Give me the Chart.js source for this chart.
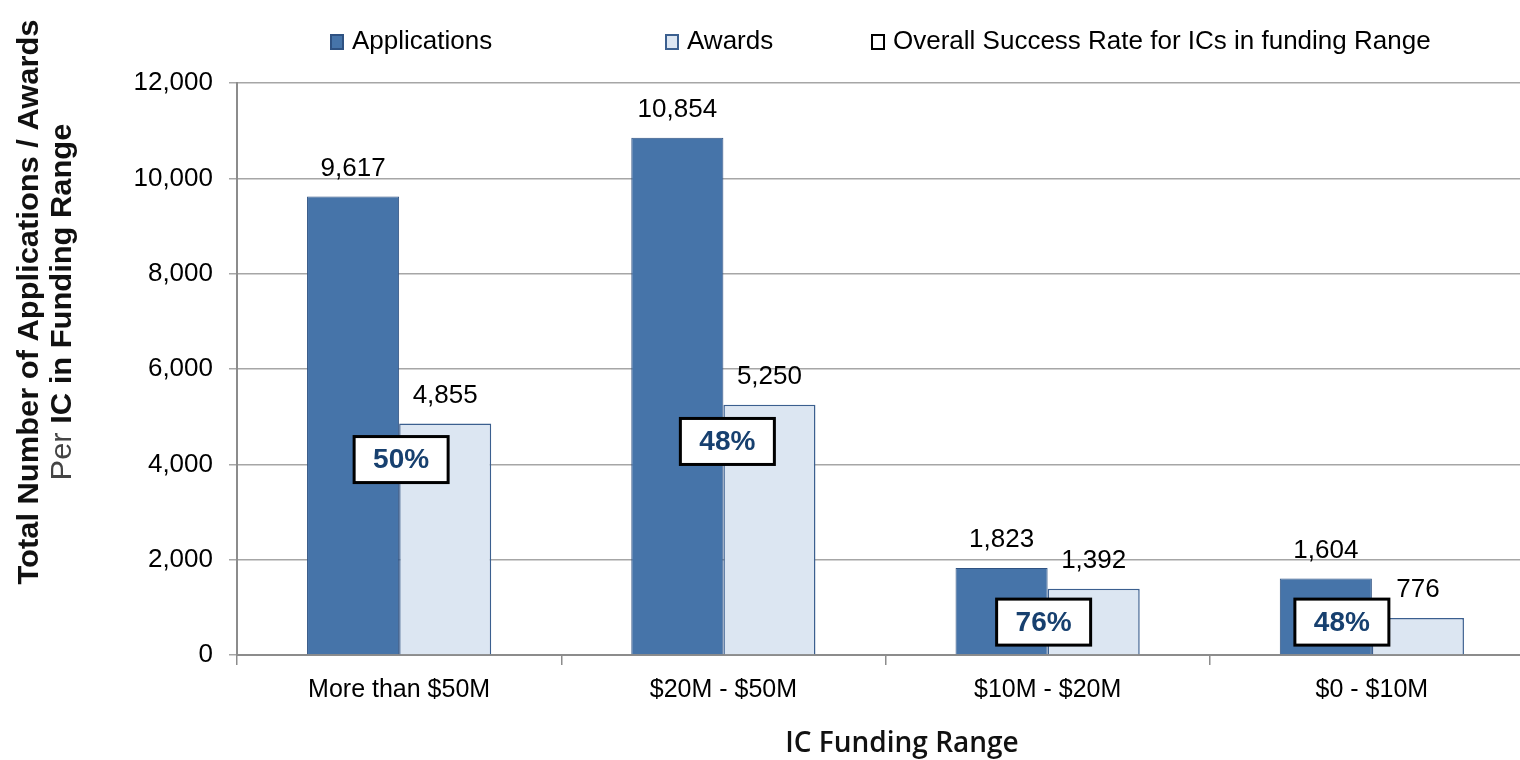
<!DOCTYPE html>
<html>
<head>
<meta charset="utf-8">
<script src="https://cdn.jsdelivr.net/npm/chart.js@4"></script>
<style>
body { margin: 0; overflow: hidden; background: #fff; }
#wrap { width: 1534px; height: 760px; position: relative; }
</style>
</head>
<body>
<div id="wrap"><canvas id="chart-area"></canvas></div>
<script>
var categories = ['More than $50M', '$20M - $50M', '$10M - $20M', '$0 - $10M'];
var applications = [9617, 10854, 1823, 1604];
var awards = [4855, 5250, 1392, 776];
var successRate = [50, 48, 76, 48];
var yTicks = [0, 2000, 4000, 6000, 8000, 10000, 12000];
var legendLabels = ['Applications', 'Awards', 'Overall Success Rate for ICs in funding Range'];

// where the rate boxes sit (y in axis units, x shift in px from category centre)
var rateBoxY = [4100, 4480, 690, 690];
var rateBoxShift = [2, 4, -4, -30];

var textFont = '"Liberation Sans", Arial, sans-serif';

// value labels above bars, rate boxes, legend and titles
var extrasPlugin = {
    id: 'extras',
    afterDatasetsDraw: function (chart) {
        var ctx = chart.ctx;
        ctx.save();
        ctx.font = '26px ' + textFont;
        ctx.fillStyle = '#000';
        ctx.textAlign = 'center';
        ctx.textBaseline = 'middle';
        chart.data.datasets.forEach(function (ds, di) {
            var meta = chart.getDatasetMeta(di);
            meta.data.forEach(function (bar, i) {
                ctx.fillText(ds.data[i].toLocaleString('en-US'), bar.x, bar.y - 28);
            });
        });

        // success rate boxes
        var xs = chart.scales.x, ys = chart.scales.y;
        ctx.font = 'bold 28px ' + textFont;
        for (var i = 0; i < successRate.length; i++) {
            var cx = xs.getPixelForValue(i) + rateBoxShift[i];
            var cy = ys.getPixelForValue(rateBoxY[i]);
            ctx.fillStyle = '#fff';
            ctx.fillRect(cx - 47, cy - 23, 94, 46);
            ctx.lineWidth = 3;
            ctx.strokeStyle = '#000';
            ctx.strokeRect(cx - 47, cy - 23, 94, 46);
            ctx.fillStyle = '#17406f';
            ctx.fillText(successRate[i] + '%', cx, cy + 1);
        }
        ctx.restore();
    },
    afterDraw: function (chart) {
        var ctx = chart.ctx;
        ctx.save();

        // legend
        var legendX = [331, 666, 872];
        var legendFill = ['#4674a9', '#dce6f2', '#fff'];
        var legendBorder = ['#2f5282', '#3b5f8f', '#000'];
        ctx.font = '26px ' + textFont;
        ctx.textBaseline = 'middle';
        ctx.textAlign = 'left';
        for (var i = 0; i < legendLabels.length; i++) {
            ctx.fillStyle = legendFill[i];
            ctx.fillRect(legendX[i], 35, 12, 14);
            ctx.lineWidth = 2;
            ctx.strokeStyle = legendBorder[i];
            ctx.strokeRect(legendX[i], 35, 12, 14);
            ctx.fillStyle = '#000';
            ctx.fillText(legendLabels[i], legendX[i] + 21, 42);
        }

        // y axis title, two lines
        var line1 = 'Total Number of Applications / Awards';
        ctx.translate(30, 302);
        ctx.rotate(-Math.PI / 2);
        ctx.font = 'bold 30px ' + textFont;
        var sx = 565 / ctx.measureText(line1).width;
        ctx.scale(sx, 1);
        ctx.textAlign = 'center';
        ctx.fillStyle = '#111';
        ctx.fillText(line1, 0, 0);

        ctx.font = '30px ' + textFont;
        var wPer = ctx.measureText('Per ').width;
        ctx.font = 'bold 30px ' + textFont;
        var wRest = ctx.measureText('IC in Funding Range').width;
        var start = -(wPer + wRest) / 2;
        ctx.textAlign = 'left';
        ctx.font = '30px ' + textFont;
        ctx.fillStyle = '#444';
        ctx.fillText('Per ', start, 33);
        ctx.font = 'bold 30px ' + textFont;
        ctx.fillStyle = '#111';
        ctx.fillText('IC in Funding Range', start + wPer, 33);
        ctx.restore();

        // x axis title
        ctx.save();
        ctx.font = '600 28px "Open Sans", sans-serif';
        ctx.fillStyle = '#111';
        ctx.textAlign = 'center';
        ctx.textBaseline = 'middle';
        ctx.fillText('IC Funding Range', 902, 744);
        ctx.restore();
    }
};

var config = {
    type: 'bar',
    data: {
        labels: categories,
        datasets: [{
            label: legendLabels[0],
            data: applications,
            backgroundColor: '#4674a9',
            borderColor: '#2f5282',
            borderWidth: 1
        }, {
            label: legendLabels[1],
            data: awards,
            backgroundColor: '#dce6f2',
            borderColor: '#3b5f8f',
            borderWidth: 1.5
        }]
    },
    options: {
        responsive: true,
        maintainAspectRatio: false,
        animation: false,
        layout: { padding: { top: 83, left: 0, right: 0, bottom: 0 } },
        datasets: { bar: { categoryPercentage: 0.568, barPercentage: 1 } },
        plugins: {
            legend: { display: false },
            tooltip: { enabled: false }
        },
        scales: {
            x: {
                grid: { offset: true, drawOnChartArea: false, tickLength: 10, color: '#8c8c8c', lineWidth: 1.5 },
                border: { color: '#8c8c8c', width: 2 },
                ticks: { font: { family: textFont, size: 25 }, color: '#000', padding: 10, maxRotation: 0 },
                afterFit: function (s) { s.height = 105; }
            },
            y: {
                min: 0,
                max: 12000,
                afterBuildTicks: function (s) {
                    s.ticks = yTicks.map(function (v) { return { value: v }; });
                },
                ticks: {
                    callback: function (v) { return v.toLocaleString('en-US'); },
                    font: { family: textFont, size: 26 },
                    color: '#000',
                    padding: 16
                },
                grid: { color: '#a6a6a6', lineWidth: 1.5, tickLength: 8 },
                border: { color: '#8c8c8c', width: 2 },
                afterFit: function (s) { s.width = 237; }
            }
        }
    },
    plugins: [extrasPlugin]
};

var ctx = document.getElementById('chart-area').getContext('2d');
window.myBar = new Chart(ctx, config);
</script>
</body>
</html>
